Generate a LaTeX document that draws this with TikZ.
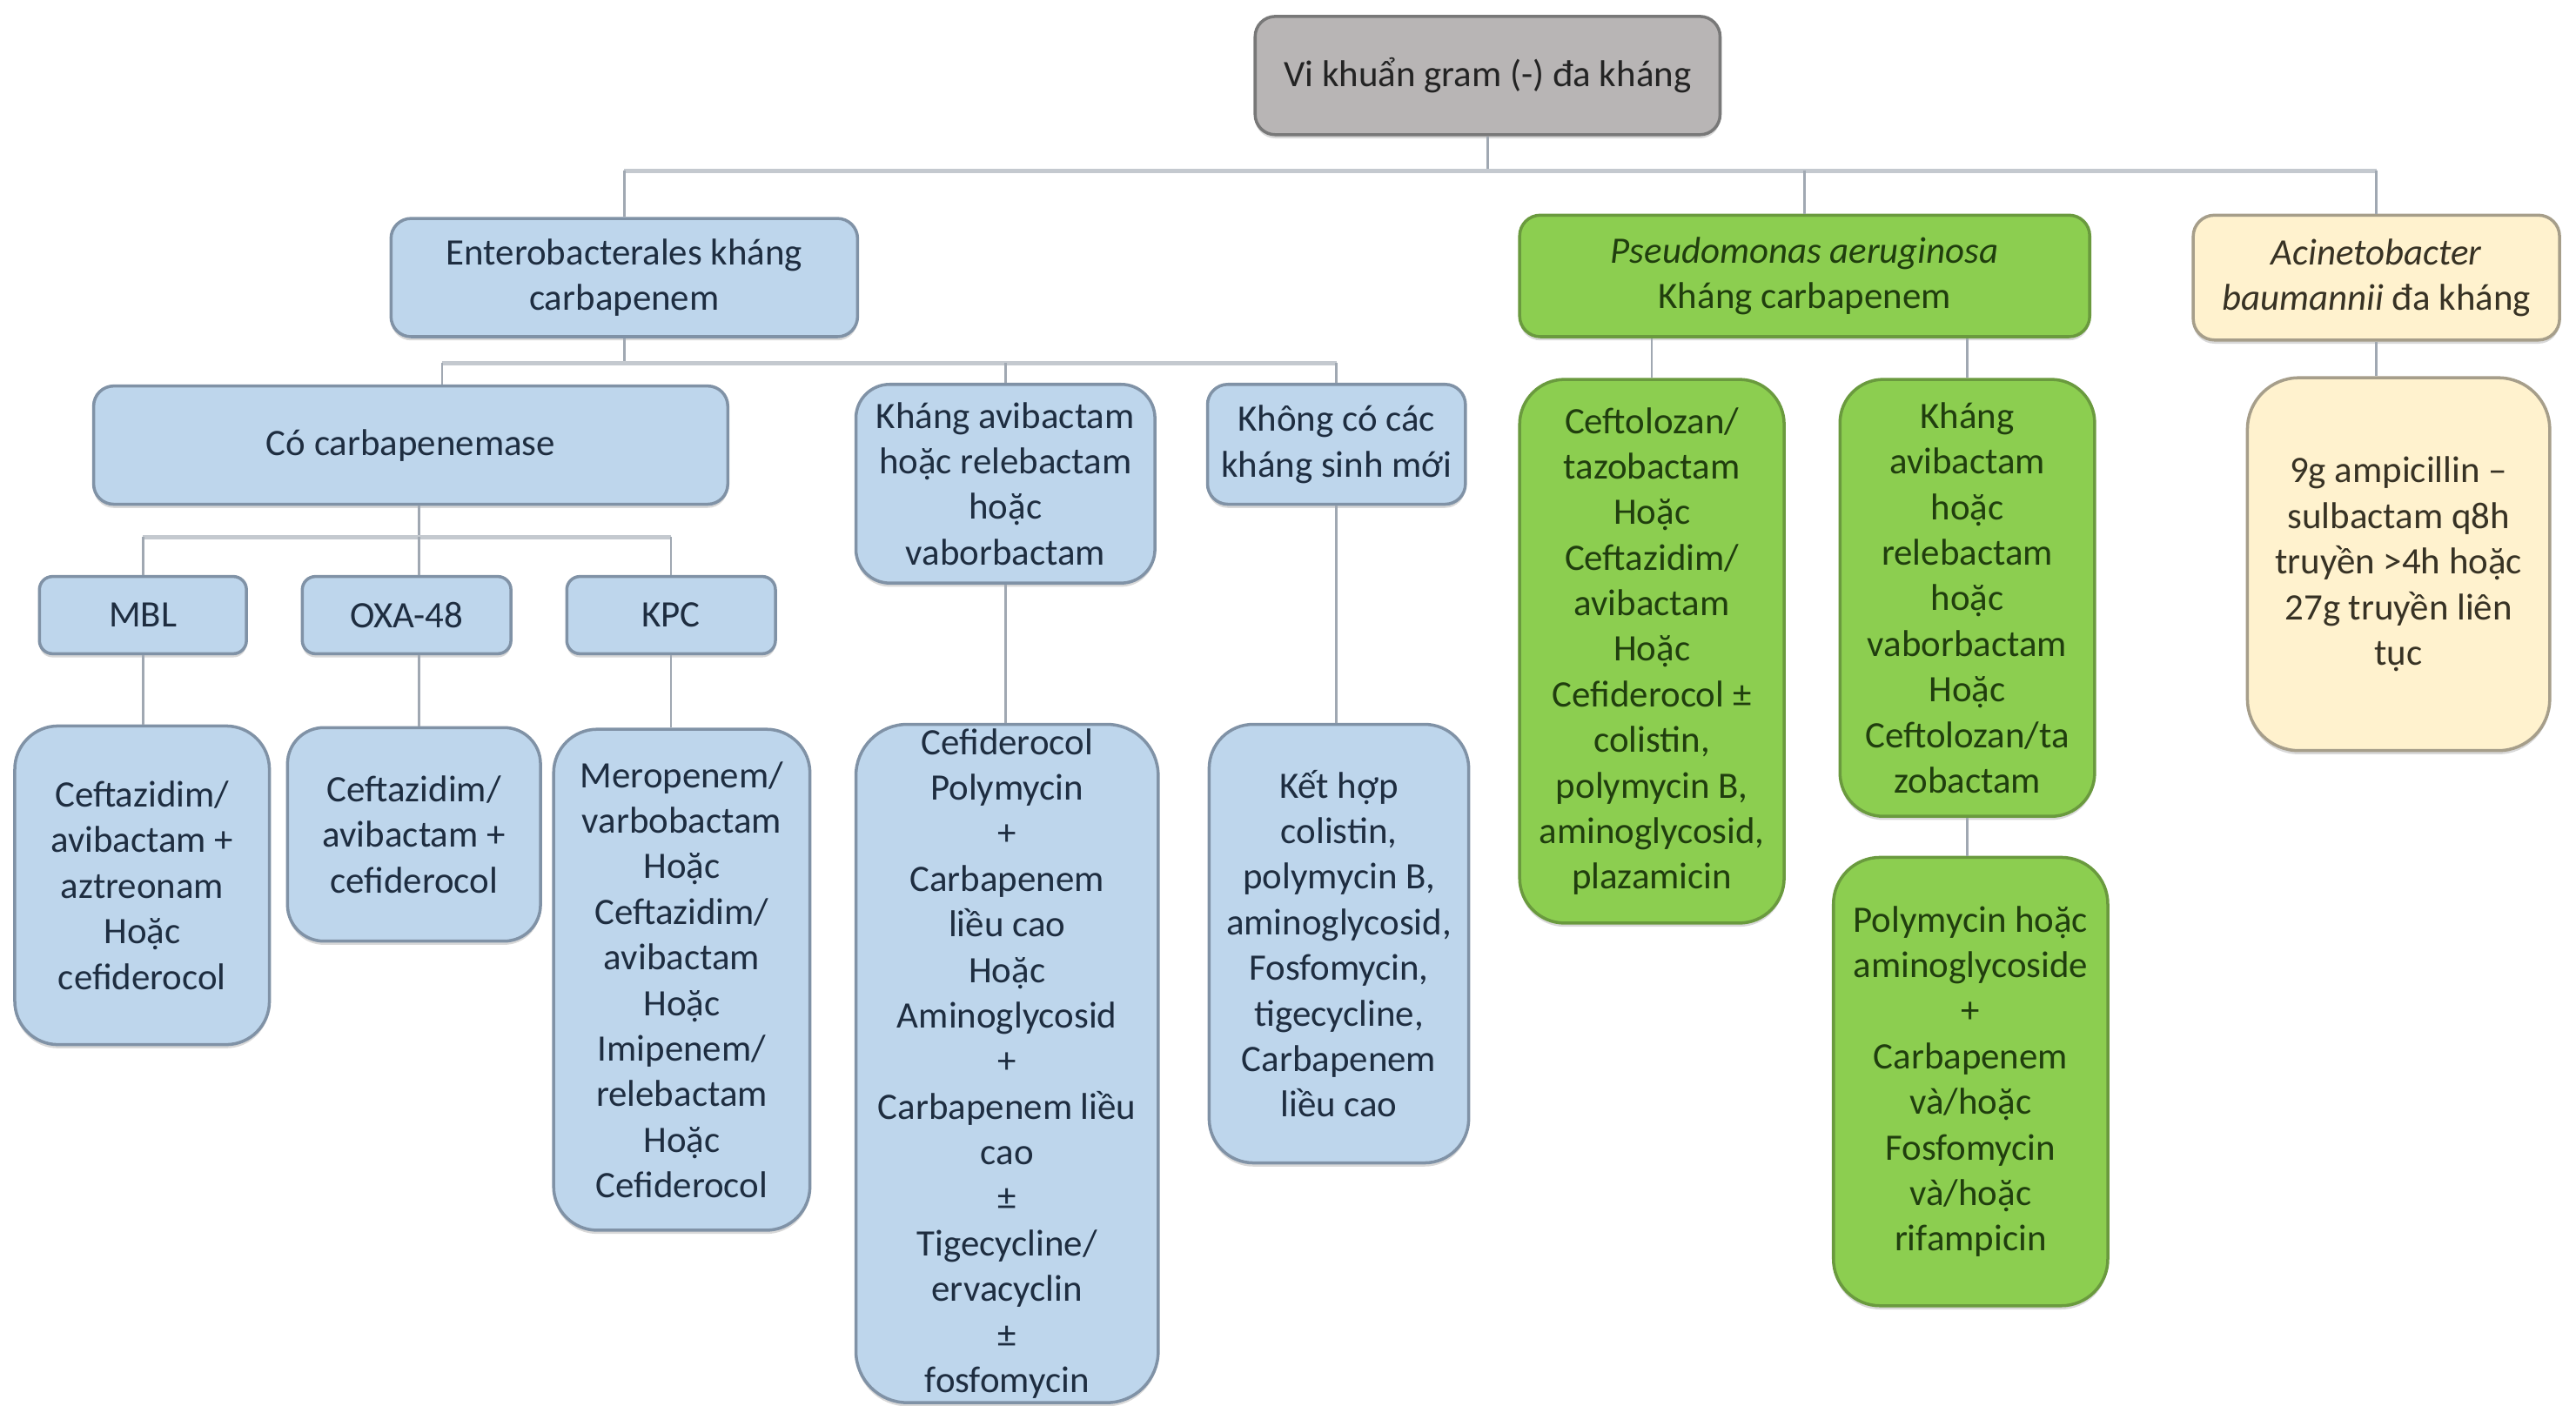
\documentclass[tikz,border=0pt]{standalone}
\usepackage{fontspec}
\setmainfont{Carlito}
\usetikzlibrary{shadows}
\definecolor{bluefill}{RGB}{190,214,236}
\definecolor{blueline}{RGB}{128,146,166}
\definecolor{bluetext}{RGB}{30,45,64}
\definecolor{greenfill}{RGB}{140,206,80}
\definecolor{greenline}{RGB}{106,154,62}
\definecolor{greentext}{RGB}{32,62,14}
\definecolor{creamfill}{RGB}{255,242,206}
\definecolor{creamline}{RGB}{166,158,138}
\definecolor{creamtext}{RGB}{55,50,36}
\definecolor{grayfill}{RGB}{184,181,181}
\definecolor{grayline}{RGB}{120,120,120}
\definecolor{graytext}{RGB}{35,35,35}
\definecolor{connline}{RGB}{160,168,178}
\definecolor{busline}{RGB}{196,201,207}
\tikzset{
  basebox/.style={draw, line width=1pt, inner sep=0pt, align=center,
    font=\fontsize{12.2}{14.9}\selectfont,
    drop shadow={shadow xshift=0pt, shadow yshift=-1.2pt, opacity=0.3, fill=black!50}},
  bluebox/.style={basebox, fill=bluefill, draw=blueline, text=bluetext},
  greenbox/.style={basebox, fill=greenfill, draw=greenline, text=greentext},
  creambox/.style={basebox, fill=creamfill, draw=creamline, text=creamtext},
  graybox/.style={basebox, fill=grayfill, draw=grayline, text=graytext},
  conn/.style={draw=connline, line width=0.75pt},
  bus/.style={draw=busline, line width=1.4pt}
}
\newcommand\mkbox[7]{%
  \pgfmathsetmacro\bw{(#5-#3)*0.018878}%
  \pgfmathsetmacro\bh{(#6-#4)*0.018878}%
  \pgfmathsetmacro\br{0.17*min(\bw,\bh)}%
  \node[#1, minimum width=\bw cm, minimum height=\bh cm, rounded corners=\br cm] (#2) at ({(#3+#5)/2},{(#4+#6)/2}) {#7};%
}
\begin{document}
\begin{tikzpicture}[x=0.018878cm, y=-0.018878cm]
\useasboundingbox (0,0) rectangle (1568,856);
\fill[white] (0,0) rectangle (1568,856);

% coordinates for bus levels
\coordinate (b1) at (906,104);
\coordinate (b2) at (380,221);
\coordinate (b3) at (255,327);

% boxes
\mkbox{graybox}{root}{764}{10}{1047}{82}{Vi khuẩn gram (-) đa kháng}
\mkbox{bluebox}{ent}{238}{133}{522}{205}{Enterobacterales kháng\\carbapenem}
\mkbox{greenbox}{pse}{925}{131}{1272}{205}{\textit{Pseudomonas aeruginosa}\\Kháng carbapenem}
\mkbox{creambox}{aci}{1335}{131}{1558}{207}{\textit{Acinetobacter}\\\textit{baumannii} đa kháng}

\mkbox{bluebox}{cocarb}{57}{235}{443}{307}{Có carbapenemase}
\mkbox{bluebox}{khavi}{521}{234}{703}{355}{Kháng avibactam\\hoặc relebactam\\hoặc\\vaborbactam}
\mkbox{bluebox}{khong}{735}{234}{892}{307}{Không có các\\kháng sinh mới}

\mkbox{bluebox}{mbl}{24}{351}{150}{398}{MBL}
\mkbox{bluebox}{oxa}{184}{351}{311}{398}{OXA-48}
\mkbox{bluebox}{kpc}{345}{351}{472}{398}{KPC}

\mkbox{bluebox}{mblc}{9}{442}{164}{636}{Ceftazidim/\\avibactam +\\aztreonam\\Hoặc\\cefiderocol}
\mkbox{bluebox}{oxac}{175}{443}{329}{573}{Ceftazidim/\\avibactam +\\cefiderocol}
\mkbox{bluebox}{kpcc}{337}{444}{493}{749}{Meropenem/\\varbobactam\\Hoặc\\Ceftazidim/\\avibactam\\Hoặc\\Imipenem/\\relebactam\\Hoặc\\Cefiderocol}
\mkbox{bluebox}{khavic}{521}{441}{705}{854}{Cefiderocol\\Polymycin\\+\\Carbapenem\\liều cao\\Hoặc\\Aminoglycosid\\+\\Carbapenem liều\\cao\\±\\Tigecycline/\\ervacyclin\\±\\fosfomycin}
\mkbox{bluebox}{khongc}{736}{441}{894}{708}{Kết hợp\\colistin,\\polymycin B,\\aminoglycosid,\\Fosfomycin,\\tigecycline,\\Carbapenem\\liều cao}

\mkbox{greenbox}{pc1}{925}{231}{1086}{562}{Ceftolozan/\\tazobactam\\Hoặc\\Ceftazidim/\\avibactam\\Hoặc\\Cefiderocol ±\\colistin,\\polymycin B,\\aminoglycosid,\\plazamicin}
\mkbox{greenbox}{pc2}{1120}{231}{1275}{497}{Kháng\\avibactam\\hoặc\\relebactam\\hoặc\\vaborbactam\\Hoặc\\Ceftolozan/ta\\zobactam}
\mkbox{greenbox}{pc2c}{1116}{522}{1283}{795}{Polymycin hoặc\\aminoglycoside\\+\\Carbapenem\\và/hoặc\\Fosfomycin\\và/hoặc\\rifampicin}

\mkbox{creambox}{acic}{1368}{230}{1552}{457}{9g ampicillin –\\sulbactam q8h\\truyền >4h hoặc\\27g truyền liên\\tục}

% connectors
\draw[conn] (root.south) -- (root.south |- b1);
\draw[bus] (ent.north |- b1) -- (aci.north |- b1);
\draw[conn] (ent.north |- b1) -- (ent.north);
\draw[conn] (pse.north |- b1) -- (pse.north);
\draw[conn] (aci.north |- b1) -- (aci.north);

\draw[conn] (ent.south) -- (ent.south |- b2);
\draw[bus] ([xshift=0.36cm]cocarb.north |- b2) -- (khong.north |- b2);
\draw[conn] ([xshift=0.36cm]cocarb.north |- b2) -- ([xshift=0.36cm]cocarb.north);
\draw[conn] (khavi.north |- b2) -- (khavi.north);
\draw[conn] (khong.north |- b2) -- (khong.north);

\draw[conn] (cocarb.south -| b3) -- (b3);
\draw[bus] (mbl.north |- b3) -- (kpc.north |- b3);
\draw[conn] (mbl.north |- b3) -- (mbl.north);
\draw[conn] (b3) -- (b3 |- oxa.north);
\draw[conn] (kpc.north |- b3) -- (kpc.north);

\draw[conn] (mbl.south) -- (mbl.south |- mblc.north);
\draw[conn] (b3 |- oxa.south) -- (b3 |- oxac.north);
\draw[conn] (kpc.south) -- (kpc.south |- kpcc.north);
\draw[conn] (khavi.south) -- (khavi.south |- khavic.north);
\draw[conn] (khong.south) -- (khong.south |- khongc.north);

\draw[conn] (pse.south -| pc1.north) -- (pc1.north);
\draw[conn] (pse.south -| pc2.north) -- (pc2.north);
\draw[conn] (pc2.south) -- (pc2.south |- pc2c.north);
\draw[conn] (aci.south) -- (aci.south |- acic.north);
\end{tikzpicture}
\end{document}
